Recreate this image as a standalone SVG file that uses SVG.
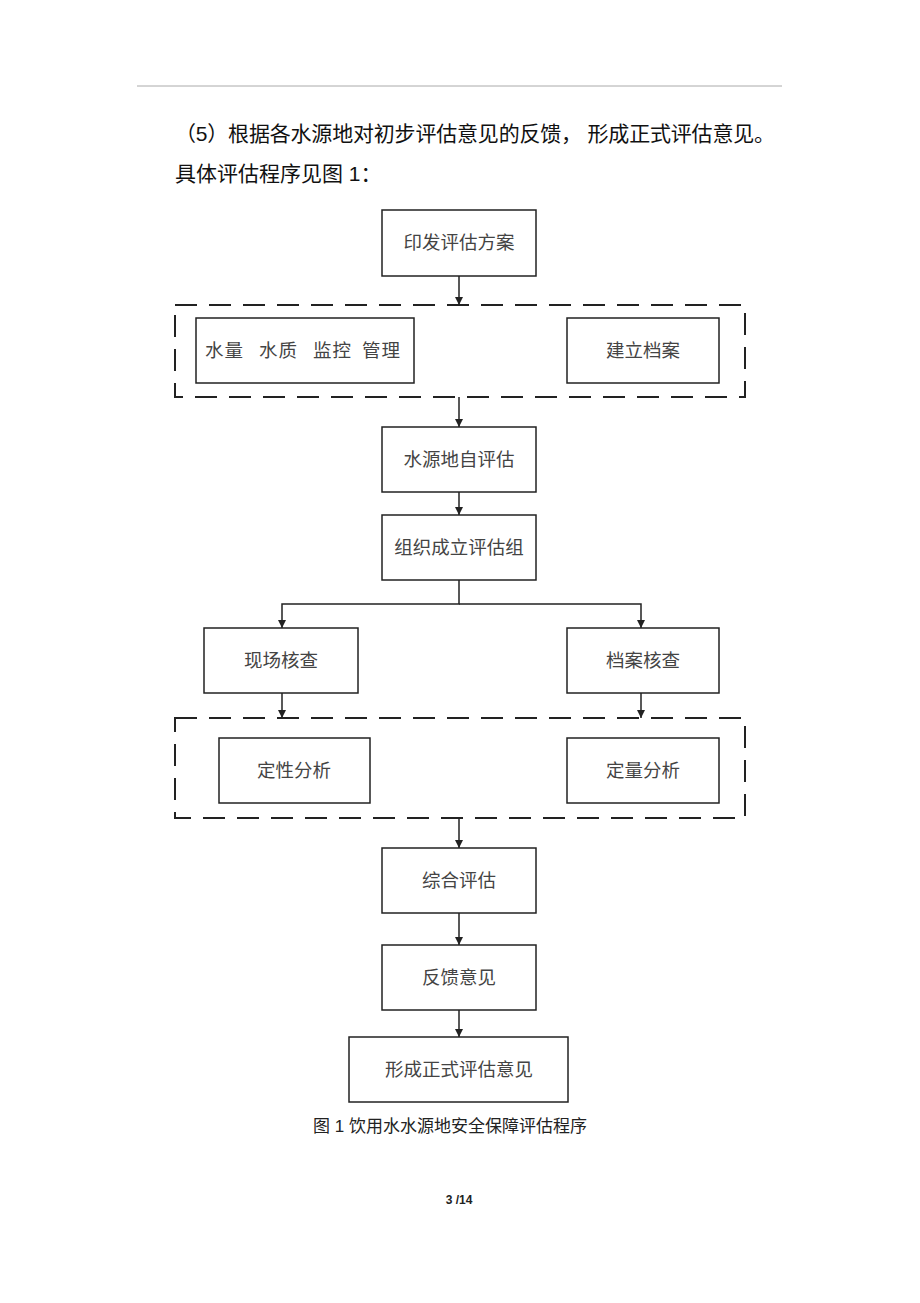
<svg xmlns="http://www.w3.org/2000/svg" width="920" height="1303" viewBox="0 0 920 1303">
<style>
.box{fill:#fff;stroke:#222;stroke-width:1.5}
.grp{fill:none;stroke:#222;stroke-width:2;stroke-dasharray:22 12}
.lbl{font-family:"Noto Sans CJK SC","Liberation Sans",sans-serif;font-size:18.5px;fill:#444;text-anchor:middle}
.para{font-family:"Liberation Sans","Noto Sans CJK SC",sans-serif;font-size:21px;fill:#111}
.con{fill:none;stroke:#222;stroke-width:1.5}
</style>
<defs>
<marker id="ah" viewBox="0 0 10 10" refX="10" refY="5" markerWidth="8" markerHeight="8" markerUnits="userSpaceOnUse" orient="auto">
<path d="M0,0 L10,5 L0,10 z" fill="#222"/>
</marker>
</defs>
<rect width="920" height="1303" fill="#fff"/>
<line x1="137" y1="86" x2="782" y2="86" stroke="#aaa" stroke-width="1"/>
<text class="para" x="175" y="141" textLength="600" lengthAdjust="spacing">（5）根据各水源地对初步评估意见的反馈， 形成正式评估意见。</text>
<text class="para" x="175" y="181">具体评估程序见图 1：</text>

<g id="group1"><rect class="grp" x="175" y="305" width="570" height="92"/></g>
<g id="group2"><rect class="grp" x="175" y="718" width="570" height="100"/></g>

<g id="connectors">
<line class="con" x1="459" y1="276" x2="459" y2="305" marker-end="url(#ah)"/>
<line class="con" x1="459" y1="397" x2="459" y2="427" marker-end="url(#ah)"/>
<line class="con" x1="459" y1="492" x2="459" y2="515" marker-end="url(#ah)"/>
<polyline class="con" points="459,580 459,604 282,604 282,628" marker-end="url(#ah)"/>
<polyline class="con" points="459,604 641,604 641,628" marker-end="url(#ah)"/>
<line class="con" x1="282" y1="693" x2="282" y2="718" marker-end="url(#ah)"/>
<line class="con" x1="641" y1="693" x2="641" y2="718" marker-end="url(#ah)"/>
<line class="con" x1="459" y1="818" x2="459" y2="848" marker-end="url(#ah)"/>
<line class="con" x1="459" y1="913" x2="459" y2="945" marker-end="url(#ah)"/>
<line class="con" x1="459" y1="1010" x2="459" y2="1037" marker-end="url(#ah)"/>
</g>

<g id="n1"><rect class="box" x="382" y="210" width="154" height="66"/><text class="lbl" x="459" y="249">印发评估方案</text></g>
<g id="n2"><rect class="box" x="196" y="318" width="218" height="65"/><text class="lbl" x="205" y="357" style="text-anchor:start" xml:space="preserve" textLength="195" lengthAdjust="spacing">水量   水质   监控  管理</text></g>
<g id="n3"><rect class="box" x="567" y="318" width="152" height="65"/><text class="lbl" x="643" y="357">建立档案</text></g>
<g id="n4"><rect class="box" x="382" y="427" width="154" height="65"/><text class="lbl" x="459" y="466">水源地自评估</text></g>
<g id="n5"><rect class="box" x="382" y="515" width="154" height="65"/><text class="lbl" x="459" y="554">组织成立评估组</text></g>
<g id="n6"><rect class="box" x="204" y="628" width="154" height="65"/><text class="lbl" x="281" y="667">现场核查</text></g>
<g id="n7"><rect class="box" x="567" y="628" width="152" height="65"/><text class="lbl" x="643" y="667">档案核查</text></g>
<g id="n8"><rect class="box" x="219" y="738" width="151" height="65"/><text class="lbl" x="294" y="777">定性分析</text></g>
<g id="n9"><rect class="box" x="567" y="738" width="152" height="65"/><text class="lbl" x="643" y="777">定量分析</text></g>
<g id="n10"><rect class="box" x="382" y="848" width="154" height="65"/><text class="lbl" x="459" y="887">综合评估</text></g>
<g id="n11"><rect class="box" x="382" y="945" width="154" height="65"/><text class="lbl" x="459" y="984">反馈意见</text></g>
<g id="n12"><rect class="box" x="349" y="1037" width="219" height="65"/><text class="lbl" x="459" y="1076">形成正式评估意见</text></g>

<text x="450" y="1132" style="font-family:'Liberation Sans','Noto Sans CJK SC',sans-serif;font-size:17px;fill:#222;text-anchor:middle">图 1 饮用水水源地安全保障评估程序</text>
<text x="459" y="1204" style="font-family:'Liberation Sans',sans-serif;font-size:12px;font-weight:bold;fill:#222;text-anchor:middle">3 /14</text>
</svg>
